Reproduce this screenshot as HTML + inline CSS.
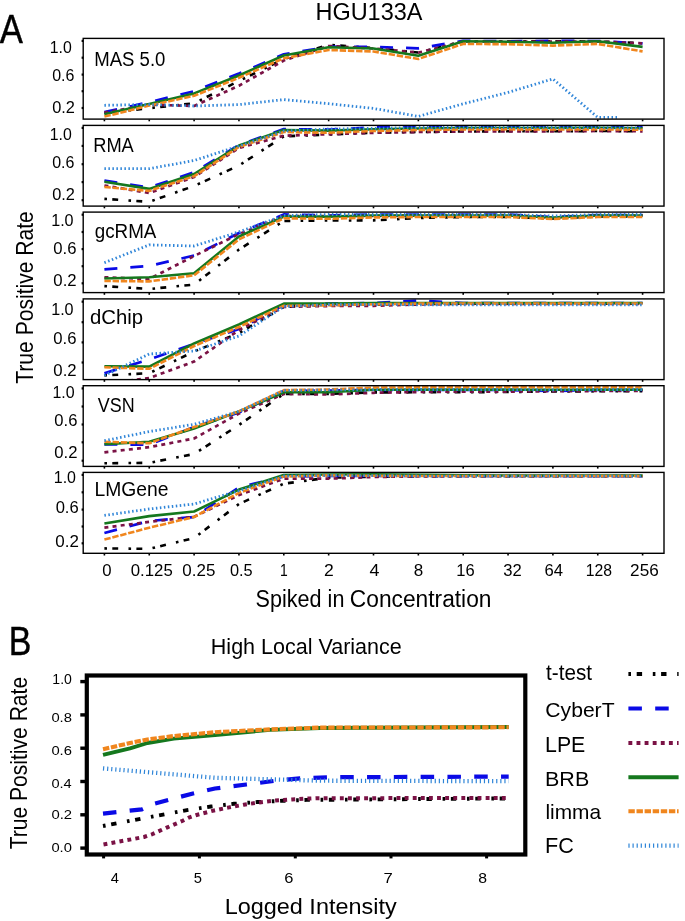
<!DOCTYPE html><html><head><meta charset="utf-8"><title>HGU133A</title><style>html,body{margin:0;padding:0;background:#fff;width:685px;height:921px;overflow:hidden}svg{display:block}text{font-family:"Liberation Sans", sans-serif;fill:#000}svg{will-change:transform}</style></head><body>
<svg width="685" height="921" viewBox="0 0 685 921">
<rect width="685" height="921" fill="#fff"/>
<defs>
<clipPath id="c0"><rect x="83.2" y="38.4" width="580.8" height="80.7"/></clipPath>
<clipPath id="c1"><rect x="83.2" y="125.4" width="580.8" height="80.7"/></clipPath>
<clipPath id="c2"><rect x="83.2" y="212.1" width="580.8" height="80.5"/></clipPath>
<clipPath id="c3"><rect x="83.2" y="298.9" width="580.8" height="80.7"/></clipPath>
<clipPath id="c4"><rect x="83.2" y="385.7" width="580.8" height="80.7"/></clipPath>
<clipPath id="c5"><rect x="83.2" y="472.4" width="580.8" height="80.9"/></clipPath>
</defs>
<text x="315.48" y="19.60" font-size="23.26" textLength="106.96" lengthAdjust="spacingAndGlyphs">HGU133A</text>
<text x="-0.37" y="42.50" font-size="41.06" textLength="23.14" lengthAdjust="spacingAndGlyphs" stroke="#000" stroke-width="0.45">A</text>
<path d="M104.4 113 L149.25 108.2 L194.1 103.3 L238.95 81 L283.8 59 L328.65 44.8 L373.5 48 L418.35 52.6 L463.2 41.3 L508.05 41.3 L552.9 41.3 L597.75 41.5 L642.6 43" fill="none" stroke="#000000" stroke-width="2.6" stroke-linejoin="round" stroke-dasharray="2.6 5.3 5.9 10.3" clip-path="url(#c0)"/>
<path d="M104.4 112 L149.25 102.2 L194.1 91.2 L238.95 73.6 L283.8 54.3 L328.65 46.7 L373.5 46.9 L418.35 48.3 L463.2 40.9 L508.05 41.3 L552.9 40.9 L597.75 41 L642.6 43.4" fill="none" stroke="#0a0ae6" stroke-width="2.7" stroke-linejoin="round" stroke-dasharray="13 13" clip-path="url(#c0)"/>
<path d="M104.4 112.6 L149.25 104.6 L194.1 106 L238.95 85.7 L283.8 60.5 L328.65 46 L373.5 48.5 L418.35 52.6 L463.2 41.5 L508.05 41.5 L552.9 41.5 L597.75 41.5 L642.6 43.4" fill="none" stroke="#7a1245" stroke-width="2.7" stroke-linejoin="round" stroke-dasharray="4 4.2" clip-path="url(#c0)"/>
<path d="M104.4 114.3 L149.25 103.9 L194.1 93.4 L238.95 75.5 L283.8 55.5 L328.65 47.3 L373.5 48.5 L418.35 55.8 L463.2 41.3 L508.05 41.8 L552.9 42.8 L597.75 41.3 L642.6 46.9" fill="none" stroke="#15781e" stroke-width="2.6" stroke-linejoin="round" clip-path="url(#c0)"/>
<path d="M104.4 116.6 L149.25 105.6 L194.1 95.8 L238.95 77.8 L283.8 58.2 L328.65 50 L373.5 51.5 L418.35 59 L463.2 43.9 L508.05 44.2 L552.9 45.6 L597.75 43.9 L642.6 51.4" fill="none" stroke="#f0861e" stroke-width="2.6" stroke-linejoin="round" stroke-dasharray="6.4 1.8" clip-path="url(#c0)"/>
<path d="M104.4 105.3 L149.25 104.5 L194.1 106 L238.95 104.6 L283.8 99.6 L328.65 103.7 L373.5 108.4 L418.35 116.4 L463.2 103.8 L508.05 92.4 L552.9 78.9 L597.75 117.4 L619.4 117.4" fill="none" stroke="#2f85d8" stroke-width="2.8" stroke-linejoin="round" stroke-dasharray="1.5 2.5" clip-path="url(#c0)"/>
<rect x="83.2" y="38.4" width="580.8" height="80.7" fill="none" stroke="#000" stroke-width="1.4"/>
<rect x="81.6" y="39.8" width="1.8" height="2.2" fill="#000"/>
<rect x="81.6" y="56.6" width="1.8" height="2.2" fill="#000"/>
<rect x="81.6" y="73.5" width="1.8" height="2.2" fill="#000"/>
<rect x="81.6" y="90.1" width="1.8" height="2.2" fill="#000"/>
<rect x="81.6" y="106.9" width="1.8" height="2.2" fill="#000"/>
<rect x="103.6" y="119.5" width="1.6" height="1.8" fill="#000"/>
<rect x="148.45" y="119.5" width="1.6" height="1.8" fill="#000"/>
<rect x="193.3" y="119.5" width="1.6" height="1.8" fill="#000"/>
<rect x="238.15" y="119.5" width="1.6" height="1.8" fill="#000"/>
<rect x="283" y="119.5" width="1.6" height="1.8" fill="#000"/>
<rect x="327.85" y="119.5" width="1.6" height="1.8" fill="#000"/>
<rect x="372.7" y="119.5" width="1.6" height="1.8" fill="#000"/>
<rect x="417.55" y="119.5" width="1.6" height="1.8" fill="#000"/>
<rect x="462.4" y="119.5" width="1.6" height="1.8" fill="#000"/>
<rect x="507.25" y="119.5" width="1.6" height="1.8" fill="#000"/>
<rect x="552.1" y="119.5" width="1.6" height="1.8" fill="#000"/>
<rect x="596.95" y="119.5" width="1.6" height="1.8" fill="#000"/>
<rect x="641.8" y="119.5" width="1.6" height="1.8" fill="#000"/>
<text x="49.70" y="52.60" font-size="15.90" textLength="22.02" lengthAdjust="spacingAndGlyphs">1.0</text>
<text x="52.18" y="80.80" font-size="15.90" textLength="22.23" lengthAdjust="spacingAndGlyphs">0.6</text>
<text x="52.16" y="112.70" font-size="16.19" textLength="22.76" lengthAdjust="spacingAndGlyphs">0.2</text>
<text x="94.28" y="65.80" font-size="20.93" textLength="71.14" lengthAdjust="spacingAndGlyphs">MAS 5.0</text>
<path d="M104.4 198.9 L149.25 201.8 L194.1 186 L238.95 165.5 L283.8 136.4 L328.65 134.5 L373.5 132.8 L418.35 132 L463.2 131.5 L508.05 131.3 L552.9 131.3 L597.75 131 L642.6 131.3" fill="none" stroke="#000000" stroke-width="2.6" stroke-linejoin="round" stroke-dasharray="2.6 5.3 5.9 10.3" clip-path="url(#c1)"/>
<path d="M104.4 180.5 L149.25 187.5 L194.1 172.3 L238.95 145 L283.8 129.1 L328.65 129.5 L373.5 127.5 L418.35 126.5 L463.2 126.3 L508.05 126.3 L552.9 126.3 L597.75 126.3 L642.6 126.8" fill="none" stroke="#0a0ae6" stroke-width="2.7" stroke-linejoin="round" stroke-dasharray="13 13" clip-path="url(#c1)"/>
<path d="M104.4 185.5 L149.25 193 L194.1 177 L238.95 148 L283.8 135.7 L328.65 134.2 L373.5 132.8 L418.35 132 L463.2 131.5 L508.05 131.3 L552.9 131.3 L597.75 131 L642.6 131.3" fill="none" stroke="#7a1245" stroke-width="2.7" stroke-linejoin="round" stroke-dasharray="4 4.2" clip-path="url(#c1)"/>
<path d="M104.4 181.8 L149.25 188.9 L194.1 174 L238.95 145.5 L283.8 130.1 L328.65 130.6 L373.5 129.3 L418.35 128.5 L463.2 128 L508.05 128 L552.9 128 L597.75 127.8 L642.6 128.3" fill="none" stroke="#15781e" stroke-width="2.6" stroke-linejoin="round" clip-path="url(#c1)"/>
<path d="M104.4 187 L149.25 190.9 L194.1 176.2 L238.95 147 L283.8 132 L328.65 132.8 L373.5 131 L418.35 130 L463.2 129.5 L508.05 129.3 L552.9 129.5 L597.75 129.3 L642.6 129.8" fill="none" stroke="#f0861e" stroke-width="2.6" stroke-linejoin="round" stroke-dasharray="6.4 1.8" clip-path="url(#c1)"/>
<path d="M104.4 168.7 L149.25 168.7 L194.1 160.5 L238.95 146 L283.8 131 L328.65 129 L373.5 128.4 L418.35 127.5 L463.2 127.5 L508.05 127.5 L552.9 127.5 L597.75 127.5 L642.6 128" fill="none" stroke="#2f85d8" stroke-width="2.8" stroke-linejoin="round" stroke-dasharray="1.5 2.5" clip-path="url(#c1)"/>
<rect x="83.2" y="125.4" width="580.8" height="80.7" fill="none" stroke="#000" stroke-width="1.4"/>
<rect x="81.6" y="126.8" width="1.8" height="2.2" fill="#000"/>
<rect x="81.6" y="144.8" width="1.8" height="2.2" fill="#000"/>
<rect x="81.6" y="163.1" width="1.8" height="2.2" fill="#000"/>
<rect x="81.6" y="181" width="1.8" height="2.2" fill="#000"/>
<rect x="81.6" y="199.1" width="1.8" height="2.2" fill="#000"/>
<rect x="103.6" y="206.5" width="1.6" height="1.8" fill="#000"/>
<rect x="148.45" y="206.5" width="1.6" height="1.8" fill="#000"/>
<rect x="193.3" y="206.5" width="1.6" height="1.8" fill="#000"/>
<rect x="238.15" y="206.5" width="1.6" height="1.8" fill="#000"/>
<rect x="283" y="206.5" width="1.6" height="1.8" fill="#000"/>
<rect x="327.85" y="206.5" width="1.6" height="1.8" fill="#000"/>
<rect x="372.7" y="206.5" width="1.6" height="1.8" fill="#000"/>
<rect x="417.55" y="206.5" width="1.6" height="1.8" fill="#000"/>
<rect x="462.4" y="206.5" width="1.6" height="1.8" fill="#000"/>
<rect x="507.25" y="206.5" width="1.6" height="1.8" fill="#000"/>
<rect x="552.1" y="206.5" width="1.6" height="1.8" fill="#000"/>
<rect x="596.95" y="206.5" width="1.6" height="1.8" fill="#000"/>
<rect x="641.8" y="206.5" width="1.6" height="1.8" fill="#000"/>
<text x="49.70" y="139.60" font-size="15.90" textLength="22.02" lengthAdjust="spacingAndGlyphs">1.0</text>
<text x="52.18" y="168.00" font-size="16.19" textLength="22.23" lengthAdjust="spacingAndGlyphs">0.6</text>
<text x="52.16" y="199.70" font-size="16.19" textLength="22.76" lengthAdjust="spacingAndGlyphs">0.2</text>
<text x="93.20" y="152.00" font-size="20.49" textLength="40.64" lengthAdjust="spacingAndGlyphs">RMA</text>
<path d="M104.4 286.1 L149.25 289 L194.1 284.6 L238.95 249.6 L283.8 221 L328.65 220.5 L373.5 220.4 L418.35 218 L463.2 217 L508.05 217 L552.9 218.5 L597.75 216.5 L642.6 216.5" fill="none" stroke="#000000" stroke-width="2.6" stroke-linejoin="round" stroke-dasharray="2.6 5.3 5.9 10.3" clip-path="url(#c2)"/>
<path d="M104.4 269.3 L149.25 266 L194.1 255.5 L238.95 233 L283.8 214.4 L328.65 215.5 L373.5 214.5 L418.35 214.5 L463.2 214.5 L508.05 214.5 L552.9 217 L597.75 215 L642.6 215" fill="none" stroke="#0a0ae6" stroke-width="2.7" stroke-linejoin="round" stroke-dasharray="13 13" clip-path="url(#c2)"/>
<path d="M104.4 277.3 L149.25 279 L194.1 256 L238.95 234.1 L283.8 216 L328.65 216 L373.5 216 L418.35 215.5 L463.2 215 L508.05 215 L552.9 217.5 L597.75 215.5 L642.6 215.5" fill="none" stroke="#7a1245" stroke-width="2.7" stroke-linejoin="round" stroke-dasharray="4 4.2" clip-path="url(#c2)"/>
<path d="M104.4 278.5 L149.25 277.3 L194.1 273.3 L238.95 236.5 L283.8 216.6 L328.65 216.6 L373.5 215.5 L418.35 215.5 L463.2 215.5 L508.05 215.5 L552.9 217.5 L597.75 215.5 L642.6 215.5" fill="none" stroke="#15781e" stroke-width="2.6" stroke-linejoin="round" clip-path="url(#c2)"/>
<path d="M104.4 281 L149.25 281.4 L194.1 275.3 L238.95 239.4 L283.8 218.3 L328.65 218.8 L373.5 217.4 L418.35 217 L463.2 217 L508.05 217 L552.9 219 L597.75 217 L642.6 217" fill="none" stroke="#f0861e" stroke-width="2.6" stroke-linejoin="round" stroke-dasharray="6.4 1.8" clip-path="url(#c2)"/>
<path d="M104.4 262.7 L149.25 244.9 L194.1 246 L238.95 231.9 L283.8 215.5 L328.65 214.5 L373.5 214.5 L418.35 214.5 L463.2 214.5 L508.05 214.5 L552.9 216 L597.75 214.5 L642.6 214.5" fill="none" stroke="#2f85d8" stroke-width="2.8" stroke-linejoin="round" stroke-dasharray="1.5 2.5" clip-path="url(#c2)"/>
<rect x="83.2" y="212.1" width="580.8" height="80.5" fill="none" stroke="#000" stroke-width="1.4"/>
<rect x="81.6" y="213.6" width="1.8" height="2.2" fill="#000"/>
<rect x="81.6" y="230.9" width="1.8" height="2.2" fill="#000"/>
<rect x="81.6" y="248" width="1.8" height="2.2" fill="#000"/>
<rect x="81.6" y="265.1" width="1.8" height="2.2" fill="#000"/>
<rect x="81.6" y="282.2" width="1.8" height="2.2" fill="#000"/>
<rect x="103.6" y="293" width="1.6" height="1.8" fill="#000"/>
<rect x="148.45" y="293" width="1.6" height="1.8" fill="#000"/>
<rect x="193.3" y="293" width="1.6" height="1.8" fill="#000"/>
<rect x="238.15" y="293" width="1.6" height="1.8" fill="#000"/>
<rect x="283" y="293" width="1.6" height="1.8" fill="#000"/>
<rect x="327.85" y="293" width="1.6" height="1.8" fill="#000"/>
<rect x="372.7" y="293" width="1.6" height="1.8" fill="#000"/>
<rect x="417.55" y="293" width="1.6" height="1.8" fill="#000"/>
<rect x="462.4" y="293" width="1.6" height="1.8" fill="#000"/>
<rect x="507.25" y="293" width="1.6" height="1.8" fill="#000"/>
<rect x="552.1" y="293" width="1.6" height="1.8" fill="#000"/>
<rect x="596.95" y="293" width="1.6" height="1.8" fill="#000"/>
<rect x="641.8" y="293" width="1.6" height="1.8" fill="#000"/>
<text x="51.17" y="225.90" font-size="16.19" textLength="22.46" lengthAdjust="spacingAndGlyphs">1.0</text>
<text x="53.35" y="254.40" font-size="16.62" textLength="23.19" lengthAdjust="spacingAndGlyphs">0.6</text>
<text x="53.35" y="285.80" font-size="16.05" textLength="23.29" lengthAdjust="spacingAndGlyphs">0.2</text>
<text x="94.81" y="237.90" font-size="20.78" textLength="61.53" lengthAdjust="spacingAndGlyphs">gcRMA</text>
<path d="M104.4 375.4 L149.25 373.2 L194.1 351.5 L238.95 333 L283.8 306.9 L328.65 305 L373.5 304.5 L418.35 304 L463.2 303.8 L508.05 303.8 L552.9 303.8 L597.75 303.8 L642.6 303.8" fill="none" stroke="#000000" stroke-width="2.6" stroke-linejoin="round" stroke-dasharray="2.6 5.3 5.9 10.3" clip-path="url(#c3)"/>
<path d="M104.4 373.2 L149.25 359.5 L194.1 344 L238.95 329 L283.8 305 L328.65 303.5 L373.5 303 L418.35 300.6 L463.2 303 L508.05 303 L552.9 303 L597.75 303 L642.6 303" fill="none" stroke="#0a0ae6" stroke-width="2.7" stroke-linejoin="round" stroke-dasharray="13 13" clip-path="url(#c3)"/>
<path d="M104.4 384 L149.25 378 L194.1 361.6 L238.95 330 L283.8 306.9 L328.65 306 L373.5 305.8 L418.35 304.5 L463.2 303.8 L508.05 303.8 L552.9 303.8 L597.75 303.8 L642.6 303.8" fill="none" stroke="#7a1245" stroke-width="2.7" stroke-linejoin="round" stroke-dasharray="4 4.2" clip-path="url(#c3)"/>
<path d="M104.4 366.2 L149.25 366.6 L194.1 343.5 L238.95 324.5 L283.8 303.6 L328.65 303.6 L373.5 303 L418.35 303 L463.2 303 L508.05 303 L552.9 303 L597.75 303 L642.6 303" fill="none" stroke="#15781e" stroke-width="2.6" stroke-linejoin="round" clip-path="url(#c3)"/>
<path d="M104.4 367.3 L149.25 368.8 L194.1 346 L238.95 327 L283.8 305.8 L328.65 305.3 L373.5 304.3 L418.35 303.6 L463.2 303.5 L508.05 303.5 L552.9 303.5 L597.75 303.5 L642.6 303.5" fill="none" stroke="#f0861e" stroke-width="2.6" stroke-linejoin="round" stroke-dasharray="6.4 1.8" clip-path="url(#c3)"/>
<path d="M104.4 375.4 L149.25 354 L194.1 351 L238.95 336 L283.8 306.5 L328.65 304.5 L373.5 304.5 L418.35 304.8 L463.2 304.8 L508.05 304.8 L552.9 304.8 L597.75 304.8 L642.6 304.8" fill="none" stroke="#2f85d8" stroke-width="2.8" stroke-linejoin="round" stroke-dasharray="1.5 2.5" clip-path="url(#c3)"/>
<rect x="83.2" y="298.9" width="580.8" height="80.7" fill="none" stroke="#000" stroke-width="1.4"/>
<rect x="81.6" y="300.6" width="1.8" height="2.2" fill="#000"/>
<rect x="81.6" y="321.1" width="1.8" height="2.2" fill="#000"/>
<rect x="81.6" y="341.3" width="1.8" height="2.2" fill="#000"/>
<rect x="81.6" y="361.4" width="1.8" height="2.2" fill="#000"/>
<rect x="103.6" y="380" width="1.6" height="1.8" fill="#000"/>
<rect x="148.45" y="380" width="1.6" height="1.8" fill="#000"/>
<rect x="193.3" y="380" width="1.6" height="1.8" fill="#000"/>
<rect x="238.15" y="380" width="1.6" height="1.8" fill="#000"/>
<rect x="283" y="380" width="1.6" height="1.8" fill="#000"/>
<rect x="327.85" y="380" width="1.6" height="1.8" fill="#000"/>
<rect x="372.7" y="380" width="1.6" height="1.8" fill="#000"/>
<rect x="417.55" y="380" width="1.6" height="1.8" fill="#000"/>
<rect x="462.4" y="380" width="1.6" height="1.8" fill="#000"/>
<rect x="507.25" y="380" width="1.6" height="1.8" fill="#000"/>
<rect x="552.1" y="380" width="1.6" height="1.8" fill="#000"/>
<rect x="596.95" y="380" width="1.6" height="1.8" fill="#000"/>
<rect x="641.8" y="380" width="1.6" height="1.8" fill="#000"/>
<text x="51.17" y="315.30" font-size="16.19" textLength="22.46" lengthAdjust="spacingAndGlyphs">1.0</text>
<text x="53.35" y="343.70" font-size="16.19" textLength="23.19" lengthAdjust="spacingAndGlyphs">0.6</text>
<text x="53.35" y="375.50" font-size="16.19" textLength="23.29" lengthAdjust="spacingAndGlyphs">0.2</text>
<text x="89.95" y="324.30" font-size="20.14" textLength="53.10" lengthAdjust="spacingAndGlyphs">dChip</text>
<path d="M104.4 463.3 L149.25 462.8 L194.1 454 L238.95 425 L283.8 393.9 L328.65 393.9 L373.5 392.4 L418.35 392.3 L463.2 392.3 L508.05 392 L552.9 391.5 L597.75 391.3 L642.6 391.3" fill="none" stroke="#000000" stroke-width="2.6" stroke-linejoin="round" stroke-dasharray="2.6 5.3 5.9 10.3" clip-path="url(#c4)"/>
<path d="M104.4 444.3 L149.25 444.7 L194.1 427 L238.95 412.5 L283.8 391 L328.65 390.5 L373.5 390 L418.35 390 L463.2 390 L508.05 390 L552.9 391 L597.75 390 L642.6 390" fill="none" stroke="#0a0ae6" stroke-width="2.7" stroke-linejoin="round" stroke-dasharray="13 13" clip-path="url(#c4)"/>
<path d="M104.4 452.3 L149.25 447.2 L194.1 438.5 L238.95 413.6 L283.8 393.9 L328.65 394.5 L373.5 392.8 L418.35 392 L463.2 391.6 L508.05 391.6 L552.9 391.2 L597.75 391 L642.6 391" fill="none" stroke="#7a1245" stroke-width="2.7" stroke-linejoin="round" stroke-dasharray="4 4.2" clip-path="url(#c4)"/>
<path d="M104.4 444.3 L149.25 441.8 L194.1 428.5 L238.95 411.4 L283.8 392.3 L328.65 392.3 L373.5 389.8 L418.35 389.6 L463.2 389.6 L508.05 389.6 L552.9 389.8 L597.75 389.6 L642.6 389.6" fill="none" stroke="#15781e" stroke-width="2.6" stroke-linejoin="round" clip-path="url(#c4)"/>
<path d="M104.4 441.8 L149.25 443.3 L194.1 427 L238.95 411.4 L283.8 390.1 L328.65 389.5 L373.5 387.6 L418.35 387.3 L463.2 387.3 L508.05 387.3 L552.9 387.3 L597.75 387.3 L642.6 387.3" fill="none" stroke="#f0861e" stroke-width="2.6" stroke-linejoin="round" stroke-dasharray="6.4 1.8" clip-path="url(#c4)"/>
<path d="M104.4 440.7 L149.25 431.6 L194.1 424.3 L238.95 411.4 L283.8 390.5 L328.65 390 L373.5 389.7 L418.35 389.5 L463.2 389.5 L508.05 389.5 L552.9 390 L597.75 389.5 L642.6 389.5" fill="none" stroke="#2f85d8" stroke-width="2.8" stroke-linejoin="round" stroke-dasharray="1.5 2.5" clip-path="url(#c4)"/>
<rect x="83.2" y="385.7" width="580.8" height="80.7" fill="none" stroke="#000" stroke-width="1.4"/>
<rect x="81.6" y="387.3" width="1.8" height="2.2" fill="#000"/>
<rect x="81.6" y="405.4" width="1.8" height="2.2" fill="#000"/>
<rect x="81.6" y="423.4" width="1.8" height="2.2" fill="#000"/>
<rect x="81.6" y="441.2" width="1.8" height="2.2" fill="#000"/>
<rect x="81.6" y="459.6" width="1.8" height="2.2" fill="#000"/>
<rect x="103.6" y="466.8" width="1.6" height="1.8" fill="#000"/>
<rect x="148.45" y="466.8" width="1.6" height="1.8" fill="#000"/>
<rect x="193.3" y="466.8" width="1.6" height="1.8" fill="#000"/>
<rect x="238.15" y="466.8" width="1.6" height="1.8" fill="#000"/>
<rect x="283" y="466.8" width="1.6" height="1.8" fill="#000"/>
<rect x="327.85" y="466.8" width="1.6" height="1.8" fill="#000"/>
<rect x="372.7" y="466.8" width="1.6" height="1.8" fill="#000"/>
<rect x="417.55" y="466.8" width="1.6" height="1.8" fill="#000"/>
<rect x="462.4" y="466.8" width="1.6" height="1.8" fill="#000"/>
<rect x="507.25" y="466.8" width="1.6" height="1.8" fill="#000"/>
<rect x="552.1" y="466.8" width="1.6" height="1.8" fill="#000"/>
<rect x="596.95" y="466.8" width="1.6" height="1.8" fill="#000"/>
<rect x="641.8" y="466.8" width="1.6" height="1.8" fill="#000"/>
<text x="52.48" y="397.70" font-size="16.19" textLength="22.24" lengthAdjust="spacingAndGlyphs">1.0</text>
<text x="54.35" y="425.90" font-size="16.48" textLength="23.08" lengthAdjust="spacingAndGlyphs">0.6</text>
<text x="54.35" y="457.80" font-size="16.33" textLength="23.19" lengthAdjust="spacingAndGlyphs">0.2</text>
<text x="97.81" y="412.20" font-size="20.35" textLength="36.84" lengthAdjust="spacingAndGlyphs">VSN</text>
<path d="M104.4 548.4 L149.25 548.9 L194.1 538 L238.95 504 L283.8 483.7 L328.65 477.6 L373.5 476.8 L418.35 476.3 L463.2 476.2 L508.05 476.2 L552.9 476.2 L597.75 476.2 L642.6 476.2" fill="none" stroke="#000000" stroke-width="2.6" stroke-linejoin="round" stroke-dasharray="2.6 5.3 5.9 10.3" clip-path="url(#c5)"/>
<path d="M104.4 533 L149.25 521 L194.1 517 L238.95 487.4 L283.8 476.5 L328.65 476 L373.5 475.8 L418.35 476 L463.2 476 L508.05 476 L552.9 476 L597.75 476 L642.6 476" fill="none" stroke="#0a0ae6" stroke-width="2.7" stroke-linejoin="round" stroke-dasharray="13 13" clip-path="url(#c5)"/>
<path d="M104.4 527.6 L149.25 521.9 L194.1 516.8 L238.95 495.1 L283.8 478.7 L328.65 478.7 L373.5 477 L418.35 476.4 L463.2 476.2 L508.05 476.2 L552.9 476.2 L597.75 476.2 L642.6 476.2" fill="none" stroke="#7a1245" stroke-width="2.7" stroke-linejoin="round" stroke-dasharray="4 4.2" clip-path="url(#c5)"/>
<path d="M104.4 523.5 L149.25 516.1 L194.1 511.5 L238.95 489.6 L283.8 475 L328.65 474.5 L373.5 474.3 L418.35 474.8 L463.2 475.3 L508.05 475.5 L552.9 475.5 L597.75 475.5 L642.6 475.5" fill="none" stroke="#15781e" stroke-width="2.6" stroke-linejoin="round" clip-path="url(#c5)"/>
<path d="M104.4 539.6 L149.25 527.7 L194.1 517 L238.95 492.9 L283.8 476.5 L328.65 475.4 L373.5 475.8 L418.35 476 L463.2 476 L508.05 476 L552.9 476 L597.75 476 L642.6 476" fill="none" stroke="#f0861e" stroke-width="2.6" stroke-linejoin="round" stroke-dasharray="6.4 1.8" clip-path="url(#c5)"/>
<path d="M104.4 515.4 L149.25 509 L194.1 504 L238.95 490.7 L283.8 476 L328.65 475.5 L373.5 475.6 L418.35 476 L463.2 476.2 L508.05 476.2 L552.9 476.2 L597.75 476.2 L642.6 476.2" fill="none" stroke="#2f85d8" stroke-width="2.8" stroke-linejoin="round" stroke-dasharray="1.5 2.5" clip-path="url(#c5)"/>
<rect x="83.2" y="472.4" width="580.8" height="80.9" fill="none" stroke="#000" stroke-width="1.4"/>
<rect x="81.6" y="473.8" width="1.8" height="2.2" fill="#000"/>
<rect x="81.6" y="491.2" width="1.8" height="2.2" fill="#000"/>
<rect x="81.6" y="508.5" width="1.8" height="2.2" fill="#000"/>
<rect x="81.6" y="525.4" width="1.8" height="2.2" fill="#000"/>
<rect x="81.6" y="542.2" width="1.8" height="2.2" fill="#000"/>
<rect x="103.6" y="553.7" width="1.6" height="1.8" fill="#000"/>
<rect x="148.45" y="553.7" width="1.6" height="1.8" fill="#000"/>
<rect x="193.3" y="553.7" width="1.6" height="1.8" fill="#000"/>
<rect x="238.15" y="553.7" width="1.6" height="1.8" fill="#000"/>
<rect x="283" y="553.7" width="1.6" height="1.8" fill="#000"/>
<rect x="327.85" y="553.7" width="1.6" height="1.8" fill="#000"/>
<rect x="372.7" y="553.7" width="1.6" height="1.8" fill="#000"/>
<rect x="417.55" y="553.7" width="1.6" height="1.8" fill="#000"/>
<rect x="462.4" y="553.7" width="1.6" height="1.8" fill="#000"/>
<rect x="507.25" y="553.7" width="1.6" height="1.8" fill="#000"/>
<rect x="552.1" y="553.7" width="1.6" height="1.8" fill="#000"/>
<rect x="596.95" y="553.7" width="1.6" height="1.8" fill="#000"/>
<rect x="641.8" y="553.7" width="1.6" height="1.8" fill="#000"/>
<text x="53.78" y="482.50" font-size="15.90" textLength="22.24" lengthAdjust="spacingAndGlyphs">1.0</text>
<text x="55.65" y="513.30" font-size="16.48" textLength="23.08" lengthAdjust="spacingAndGlyphs">0.6</text>
<text x="55.24" y="547.30" font-size="16.48" textLength="23.61" lengthAdjust="spacingAndGlyphs">0.2</text>
<text x="94.52" y="496.00" font-size="20.64" textLength="74.04" lengthAdjust="spacingAndGlyphs">LMGene</text>
<text x="102.35" y="576.40" font-size="15.90" textLength="9.31" lengthAdjust="spacingAndGlyphs">0</text>
<text x="130.75" y="576.40" font-size="15.90" textLength="41.97" lengthAdjust="spacingAndGlyphs">0.125</text>
<text x="182.34" y="576.40" font-size="15.90" textLength="32.98" lengthAdjust="spacingAndGlyphs">0.25</text>
<text x="229.96" y="576.40" font-size="15.90" textLength="22.73" lengthAdjust="spacingAndGlyphs">0.5</text>
<text x="279.94" y="576.40" font-size="15.90" textLength="7.74" lengthAdjust="spacingAndGlyphs">1</text>
<text x="324.12" y="576.40" font-size="15.90" textLength="9.76" lengthAdjust="spacingAndGlyphs">2</text>
<text x="369.59" y="576.40" font-size="15.90" textLength="9.93" lengthAdjust="spacingAndGlyphs">4</text>
<text x="413.67" y="576.40" font-size="15.90" textLength="9.47" lengthAdjust="spacingAndGlyphs">8</text>
<text x="456.34" y="576.40" font-size="15.90" textLength="18.39" lengthAdjust="spacingAndGlyphs">16</text>
<text x="503.37" y="576.40" font-size="15.90" textLength="18.47" lengthAdjust="spacingAndGlyphs">32</text>
<text x="544.55" y="576.40" font-size="15.90" textLength="18.54" lengthAdjust="spacingAndGlyphs">64</text>
<text x="585.80" y="576.40" font-size="15.90" textLength="26.28" lengthAdjust="spacingAndGlyphs">128</text>
<text x="630.14" y="576.40" font-size="15.90" textLength="28.62" lengthAdjust="spacingAndGlyphs">256</text>
<text x="255.61" y="607.40" font-size="23.17" textLength="88.79" lengthAdjust="spacingAndGlyphs">Spiked in</text>
<text x="349.84" y="607.40" font-size="23.17" textLength="141.64" lengthAdjust="spacingAndGlyphs">Concentration</text>
<text x="-0.46" y="0" font-size="23.26" textLength="172.60" lengthAdjust="spacingAndGlyphs" transform="translate(33.30 383.30) rotate(-90)">True Positive Rate</text>
<text x="8.83" y="654.90" font-size="41.42" textLength="22.57" lengthAdjust="spacingAndGlyphs" stroke="#000" stroke-width="0.45">B</text>
<text x="210.84" y="653.80" font-size="21.80" textLength="190.92" lengthAdjust="spacingAndGlyphs">High Local Variance</text>
<text x="-0.46" y="0" font-size="23.11" textLength="172.50" lengthAdjust="spacingAndGlyphs" transform="translate(27.00 848.90) rotate(-90)">True Positive Rate</text>
<path d="M103 826 L151 816.8 L187 810.1 L211 806.5 L234 803.8 L257.8 802 L282.3 800.8 L306.8 799.9 L508.7 798.4" fill="none" stroke="#000000" stroke-width="3.9" stroke-linejoin="round" stroke-dasharray="2.6 5.7 5.4 10.7"/>
<path d="M103 813.6 L142 809.3 L155 803.5 L193 793.5 L215 788.5 L246.4 784.5 L273.6 781 L299.8 778.4 L330 777.2 L508.7 776.6" fill="none" stroke="#0a0ae6" stroke-width="4.2" stroke-linejoin="round" stroke-dasharray="13.5 13.3"/>
<path d="M103.5 844.5 L144 837 L152 834.3 L158.9 831.1 L166.8 827.6 L181.7 821.2 L188.7 817.7 L196.6 815 L211.4 811.1 L228 807.6 L243.8 804.7 L259.5 802.4 L275.3 800.6 L292 799.4 L315.6 798.2 L508.7 798" fill="none" stroke="#7a1245" stroke-width="4" stroke-linejoin="round" stroke-dasharray="3.9 4.2"/>
<path d="M103 754.9 L130 748.3 L147.5 743 L173.8 738.6 L215 735.1 L270 729.9 L320 728 L508.7 727" fill="none" stroke="#15781e" stroke-width="3.9" stroke-linejoin="round"/>
<path d="M103 749.2 L130 743 L147.5 739.5 L173.8 736 L215 732.2 L270 729.4 L320 727.6 L508.7 727.3" fill="none" stroke="#f0861e" stroke-width="4.1" stroke-linejoin="round" stroke-dasharray="6.4 1.7"/>
<path d="M103 768.4 L215 777.8 L320 780.7 L508.7 781.2" fill="none" stroke="#2f85d8" stroke-width="4.3" stroke-linejoin="round" stroke-dasharray="1.2 2.9"/>
<rect x="86.8" y="675.5" width="438.5" height="179" fill="none" stroke="#000" stroke-width="4.2"/>
<rect x="80.3" y="679.9" width="6" height="3.4" fill="#000"/>
<rect x="80.3" y="713.2" width="6" height="3.4" fill="#000"/>
<rect x="80.3" y="746.5" width="6" height="3.4" fill="#000"/>
<rect x="80.3" y="779.8" width="6" height="3.4" fill="#000"/>
<rect x="80.3" y="813.1" width="6" height="3.4" fill="#000"/>
<rect x="80.3" y="846.4" width="6" height="3.4" fill="#000"/>
<text x="52.33" y="683.90" font-size="13.90" textLength="19.52" lengthAdjust="spacingAndGlyphs">1.0</text>
<text x="51.42" y="721.70" font-size="13.04" textLength="20.51" lengthAdjust="spacingAndGlyphs">0.8</text>
<text x="51.42" y="755.00" font-size="13.04" textLength="20.53" lengthAdjust="spacingAndGlyphs">0.6</text>
<text x="51.43" y="788.30" font-size="13.04" textLength="20.29" lengthAdjust="spacingAndGlyphs">0.4</text>
<text x="51.42" y="818.70" font-size="13.47" textLength="20.62" lengthAdjust="spacingAndGlyphs">0.2</text>
<text x="51.43" y="852.00" font-size="13.47" textLength="20.45" lengthAdjust="spacingAndGlyphs">0.0</text>
<rect x="102.1" y="855" width="3" height="3.4" fill="#000"/>
<rect x="197.9" y="855" width="3" height="3.4" fill="#000"/>
<rect x="293.8" y="855" width="3" height="3.4" fill="#000"/>
<rect x="389.5" y="855" width="3" height="3.4" fill="#000"/>
<rect x="485.1" y="855" width="3" height="3.4" fill="#000"/>
<text x="110.66" y="882.70" font-size="13.90" textLength="8.17" lengthAdjust="spacingAndGlyphs">4</text>
<text x="193.81" y="882.70" font-size="13.90" textLength="8.21" lengthAdjust="spacingAndGlyphs">5</text>
<text x="284.16" y="882.70" font-size="13.90" textLength="9.17" lengthAdjust="spacingAndGlyphs">6</text>
<text x="383.55" y="882.70" font-size="13.90" textLength="9.29" lengthAdjust="spacingAndGlyphs">7</text>
<text x="478.32" y="882.70" font-size="13.90" textLength="8.76" lengthAdjust="spacingAndGlyphs">8</text>
<text x="224.68" y="913.60" font-size="22.67" textLength="171.97" lengthAdjust="spacingAndGlyphs">Logged Intensity</text>
<text x="546.09" y="680.10" font-size="21.21" textLength="45.95" lengthAdjust="spacingAndGlyphs">t-test</text>
<path d="M628.4 674 L678.6 674" fill="none" stroke="#000000" stroke-width="3.9" stroke-linejoin="round" stroke-dasharray="2.6 5.7 5.4 10.7"/>
<text x="545.32" y="717.00" font-size="21.06" textLength="69.25" lengthAdjust="spacingAndGlyphs">CyberT</text>
<path d="M628.4 708.5 L678.6 708.5" fill="none" stroke="#0a0ae6" stroke-width="4.2" stroke-linejoin="round" stroke-dasharray="13.5 13.3"/>
<text x="545.05" y="751.90" font-size="22.53" textLength="40.27" lengthAdjust="spacingAndGlyphs">LPE</text>
<path d="M628.4 743.1 L678.6 743.1" fill="none" stroke="#7a1245" stroke-width="4" stroke-linejoin="round" stroke-dasharray="3.9 4.2"/>
<text x="545.04" y="786.00" font-size="21.08" textLength="44.21" lengthAdjust="spacingAndGlyphs">BRB</text>
<path d="M628.4 777.3 L678.6 777.3" fill="none" stroke="#15781e" stroke-width="3.9" stroke-linejoin="round"/>
<text x="545.40" y="819.30" font-size="20.69" textLength="55.61" lengthAdjust="spacingAndGlyphs">limma</text>
<path d="M628.4 811.3 L678.6 811.3" fill="none" stroke="#f0861e" stroke-width="4.1" stroke-linejoin="round" stroke-dasharray="6.4 1.7"/>
<text x="545.03" y="852.50" font-size="21.66" textLength="28.79" lengthAdjust="spacingAndGlyphs">FC</text>
<path d="M628.4 845.6 L678.6 845.6" fill="none" stroke="#2f85d8" stroke-width="4.3" stroke-linejoin="round" stroke-dasharray="1.2 2.9"/>
</svg></body></html>
